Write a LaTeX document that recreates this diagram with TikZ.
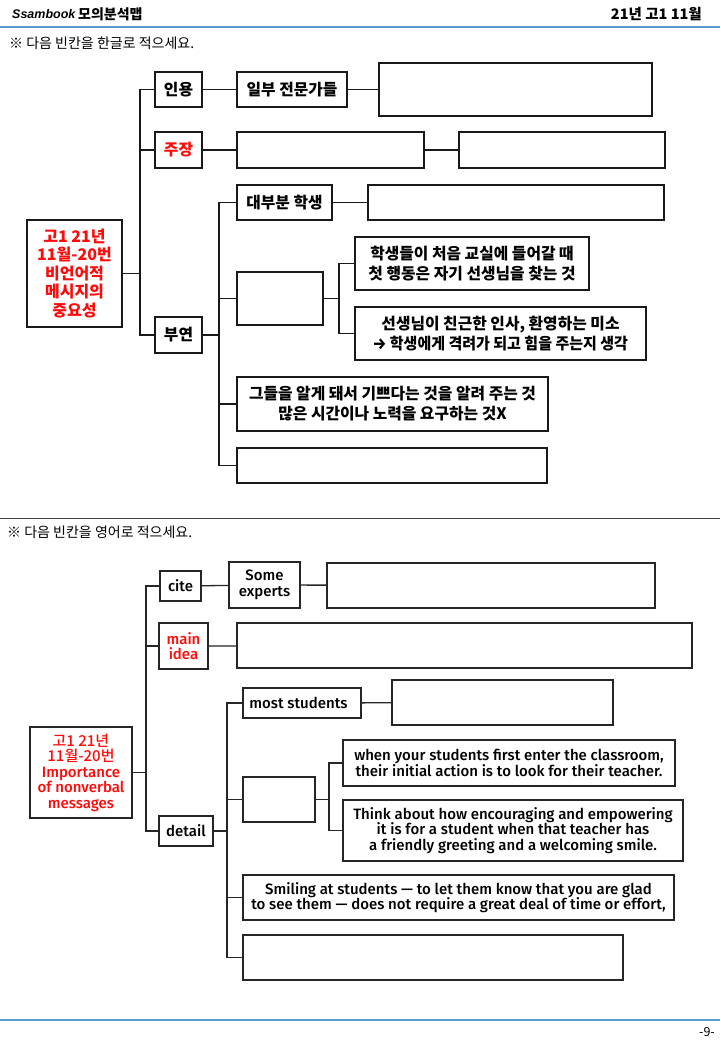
\documentclass[tikz,border=0pt]{standalone}
\usepackage{graphicx}
\usepackage{fontspec}
\setmainfont{Noto Sans CJK KR}
\newfontfamily\kr{Noto Sans CJK KR}
\newfontfamily\krm{Noto Sans CJK KR}[UprightFont={* Medium}]
\newfontfamily\en{Fira Sans}[UprightFont={* Medium}]
\newfontfamily\logofont{Liberation Sans}
\definecolor{hdrblue}{RGB}{91,155,213}
\definecolor{kred}{RGB}{255,10,10}
\tikzset{
  sz/.style 2 args={minimum width=#1pt, minimum height=#2pt},
  tbox/.style={draw=black!90, line width=1.7pt, rectangle, inner sep=0pt, align=center,
    font=\kr\bfseries\fontsize{15.8}{20}\selectfont},
  bbox/.style={draw=black!85, line width=1.3pt, rectangle, inner sep=0pt, align=center,
    font=\en\fontsize{15}{15.4}\selectfont},
  tconn/.style={draw=black!90, line width=1.7pt},
  bconn/.style={draw=black!85, line width=1.3pt},
  redtxt/.style={text=kred},
}
\begin{document}
\begin{tikzpicture}[x=1pt,y=-1pt]
\useasboundingbox[fill=white] (0,0) rectangle (720,1040);

% header
\node[anchor=west, font=\logofont\bfseries\itshape\fontsize{12.5}{12.5}\selectfont, inner sep=0pt] (logo) at (12,14) {Ssambook};
\node[anchor=west, font=\kr\bfseries\fontsize{14}{14}\selectfont, inner sep=0pt] (title) at (78,14) {모의분석맵};
\node[anchor=east, font=\kr\bfseries\fontsize{14.5}{14.5}\selectfont, inner sep=0pt] (date) at (702,14) {21년 고1 11월};
\draw[hdrblue, line width=1.5pt] (0,27) -- (720,27);
\node[anchor=west, font=\kr\fontsize{14}{14}\selectfont, inner sep=0pt] (instr1) at (9,43) {※ 다음 빈칸을 한글로 적으세요.};

% ---------------- top diagram ----------------
\node[tbox, sz={95}{107}, redtxt, font=\kr\bfseries\fontsize{16}{18.5}\selectfont] (root) at (74.5,273.5) {고1 21년\\11월-20번\\비언어적\\메시지의\\중요성};
\node[tbox, sz={47}{35}] (inyong) at (178.5,89.5) {인용};
\node[tbox, sz={110}{35}] (experts) at (292,89.5) {일부 전문가들};
\node[tbox, sz={273}{53}] (blank1) at (515.5,89.5) {};
\node[tbox, sz={47}{36}, redtxt] (jujang) at (178.5,150) {주장};
\node[tbox, sz={187}{36}] (blank2) at (330.5,150) {};
\node[tbox, sz={206}{36}] (blank3) at (562,150) {};
\node[tbox, sz={47}{36}] (buyeon) at (178.5,335) {부연};
\node[tbox, sz={95}{35}] (most) at (284.5,202.5) {대부분 학생};
\node[tbox, sz={296}{35}] (blank4) at (516,202.5) {};
\node[tbox, sz={86}{53}] (mid) at (280,298.5) {};
\node[tbox, sz={234}{53}] (boxA) at (472,263.5) {학생들이 처음 교실에 들어갈 때\\첫 행동은 자기 선생님을 찾는 것};
\node[tbox, sz={291}{53}] (boxB) at (500.5,333.5) {선생님이 친근한 인사, 환영하는 미소\\\scalebox{0.95}[1]{{\en →} 학생에게 격려가 되고 힘을 주는지 생각}};
\node[tbox, sz={311}{54}] (boxC) at (392.5,404) {그들을 알게 돼서 기쁘다는 것을 알려 주는 것\\많은 시간이나 노력을 요구하는 것X};
\node[tbox, sz={310}{35}] (boxD) at (392,465.5) {};

\coordinate (busA) at (140,0);
\coordinate (busB) at (219,0);
\coordinate (busC) at (339,0);
\draw[tconn] (root.east) -| (busA |- inyong.west) -- (inyong.west);
\draw[tconn] (root.east) -| (busA |- jujang.west) -- (jujang.west);
\draw[tconn] (root.east) -| (busA |- buyeon.west) -- (buyeon.west);
\draw[tconn] (inyong) -- (experts);
\draw[tconn] (experts) -- (blank1);
\draw[tconn] (jujang) -- (blank2);
\draw[tconn] (blank2) -- (blank3);
\draw[tconn] (buyeon.east) -| (busB |- most.west) -- (most.west);
\draw[tconn] (buyeon.east) -| (busB |- mid.west) -- (mid.west);
\draw[tconn] (buyeon.east) -| (busB |- boxC.west) -- (boxC.west);
\draw[tconn] (buyeon.east) -| (busB |- boxD.west) -- (boxD.west);
\draw[tconn] (most) -- (blank4);
\draw[tconn] (mid.east) -| (busC |- boxA.west) -- (boxA.west);
\draw[tconn] (mid.east) -| (busC |- boxB.west) -- (boxB.west);

% separator
\draw[black!75, line width=1pt] (0,518) -- (720,518);
\node[anchor=west, font=\kr\fontsize{14}{14}\selectfont, inner sep=0pt] (instr2) at (7,532) {※ 다음 빈칸을 영어로 적으세요.};

% ---------------- bottom diagram ----------------
\node[bbox, sz={102}{91}, redtxt, font=\en\fontsize{15}{15.5}\selectfont] (root2) at (81,772.5) {{\krm 고1 21년}\\{\krm 11월-20번}\\Importance\\of nonverbal\\messages};
\node[bbox, sz={41}{30}] (cite) at (180.5,586) {cite};
\node[bbox, sz={71}{46}] (some) at (264.5,585) {Some\\experts};
\node[bbox, sz={328}{45}] (blank5) at (491,585.5) {};
\node[bbox, sz={49}{46}, redtxt] (mainidea) at (183.5,646) {main\\idea};
\node[bbox, sz={455}{45}] (blank6) at (464.5,645.5) {};
\node[bbox, sz={54}{30}] (detail) at (186,831) {detail};
\node[bbox, sz={118}{30}] (most2) at (302,703) {most students\hspace{7pt}};
\node[bbox, sz={221}{45}] (blank7) at (502.5,702.5) {};
\node[bbox, sz={72}{45}] (mid2) at (279,799.5) {};
\node[bbox, sz={332}{46}] (when) at (509,763) {when your students first enter the classroom,\\their initial action is to look for their teacher.};
\node[bbox, sz={340}{61}] (think) at (513,830.5) {Think about how encouraging and empowering\\it is for a student when that teacher has\\a friendly greeting and a welcoming smile.};
\node[bbox, sz={431}{45}] (smiling) at (458.5,897.5) {Smiling at students — to let them know that you are glad\\to see them — does not require a great deal of time or effort,};
\node[bbox, sz={380}{45}] (blank8) at (433,957.5) {};

\coordinate (busD) at (146,0);
\coordinate (busE) at (227,0);
\coordinate (busF) at (329,0);
\draw[bconn] (root2.east) -| (busD |- cite.west) -- (cite.west);
\draw[bconn] (root2.east) -| (busD |- mainidea.west) -- (mainidea.west);
\draw[bconn] (root2.east) -| (busD |- detail.west) -- (detail.west);
\draw[bconn] (cite) -- (some);
\draw[bconn] (some) -- (blank5);
\draw[bconn] (mainidea) -- (blank6);
\draw[bconn] (detail.east) -| (busE |- most2.west) -- (most2.west);
\draw[bconn] (detail.east) -| (busE |- mid2.west) -- (mid2.west);
\draw[bconn] (detail.east) -| (busE |- smiling.west) -- (smiling.west);
\draw[bconn] (detail.east) -| (busE |- blank8.west) -- (blank8.west);
\draw[bconn] (most2) -- (blank7);
\draw[bconn] (mid2.east) -| (busF |- when.west) -- (when.west);
\draw[bconn] (mid2.east) -| (busF |- think.west) -- (think.west);

% footer
\draw[hdrblue, line width=1.2pt] (0,1020) -- (720,1020);
\node[anchor=east, font=\kr\fontsize{12.5}{12.5}\selectfont, inner sep=0pt] (pageno) at (715,1032) {-9-};
\end{tikzpicture}
\end{document}
